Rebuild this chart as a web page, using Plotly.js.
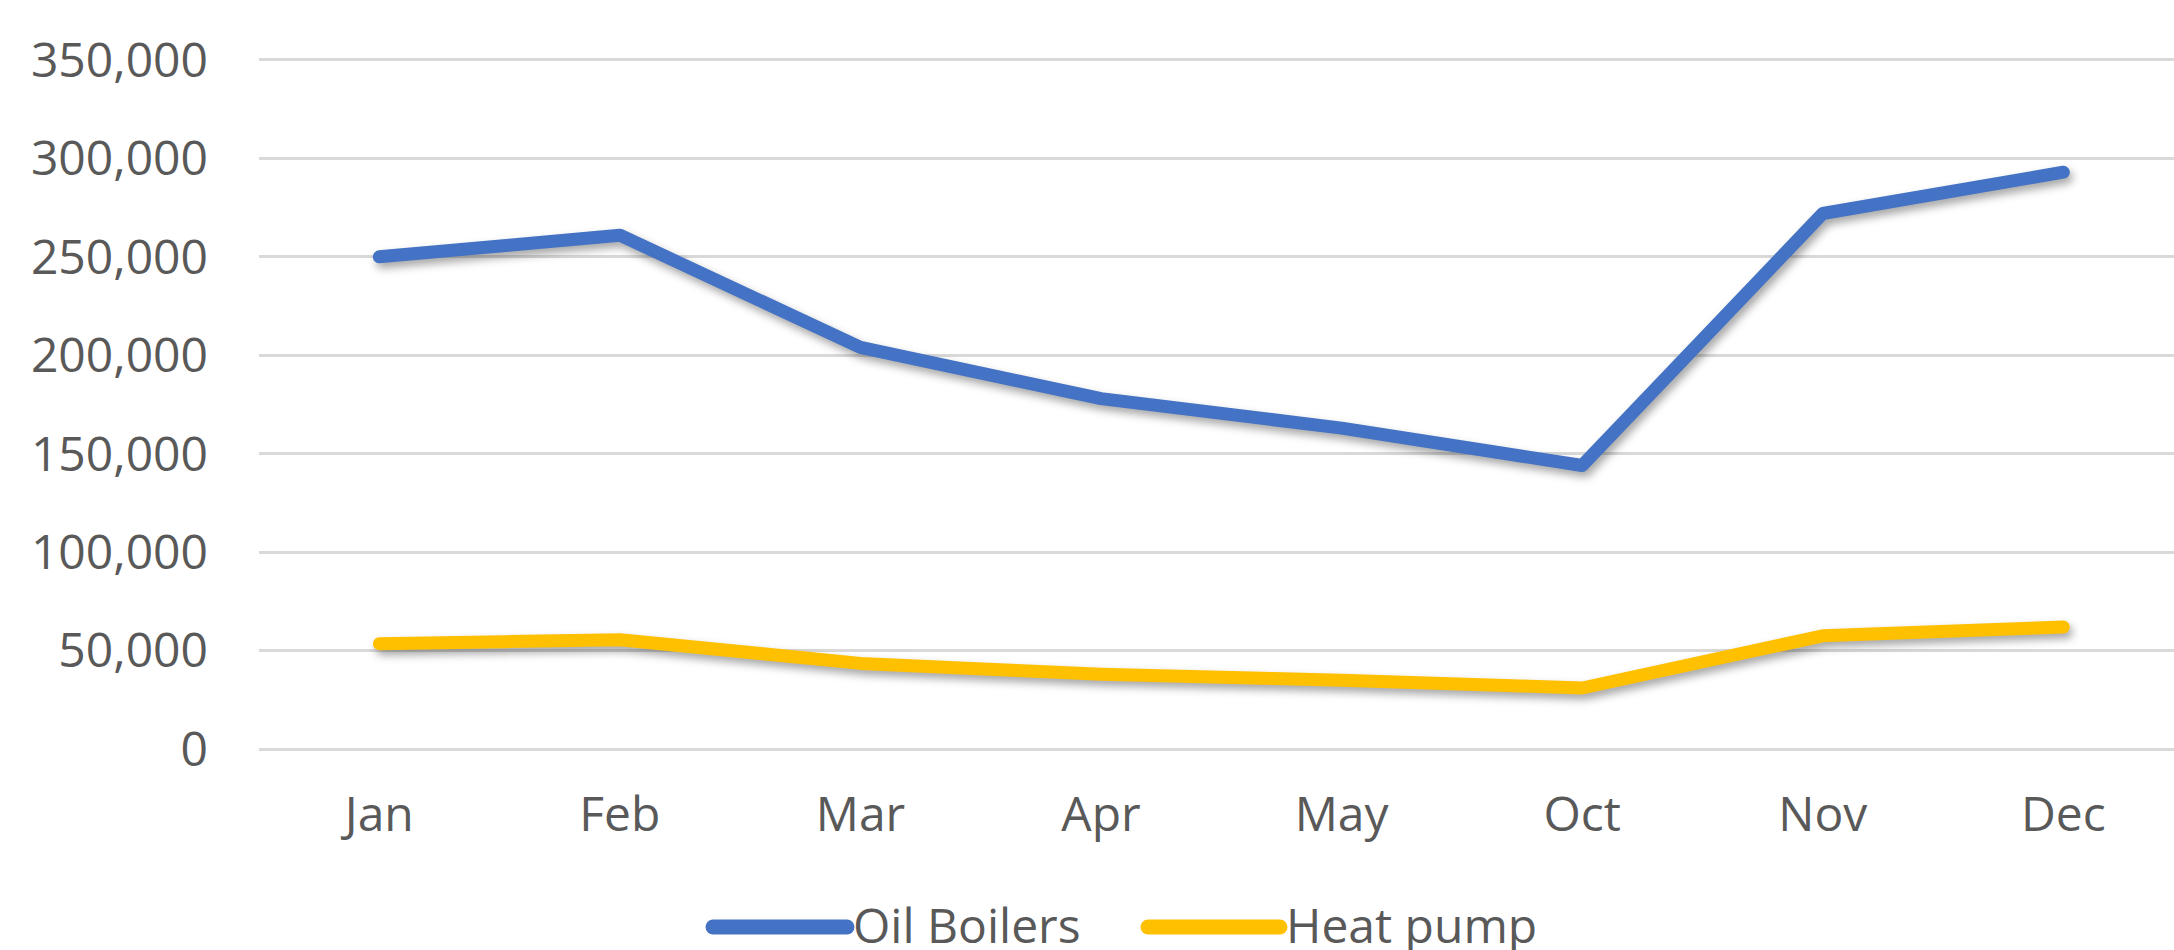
<!DOCTYPE html>
<html>
<head>
<meta charset="utf-8">
<script src="https://cdn.plot.ly/plotly-3.0.1.min.js"></script>
<style>
  html, body { margin: 0; padding: 0; background: #ffffff; }
  #chart { width: 2174px; height: 950px; }
  .scatterlayer .js-line {
    stroke-linecap: round !important;
    stroke-linejoin: round !important;
    filter: drop-shadow(3px 5px 4px rgba(0,0,0,0.35));
  }
  .shapelayer path { stroke-linecap: round !important; }
</style>
</head>
<body>
<div id="chart"></div>
<script>
// ---- data ----
const months = ["Jan", "Feb", "Mar", "Apr", "May", "Oct", "Nov", "Dec"];
const seriesNames = ["Oil Boilers", "Heat pump"];
const oilBoilers = [250000, 261000, 204000, 178000, 163000, 144000, 272000, 293000];
const heatPump = [53500, 55500, 43500, 38000, 35000, 31000, 57500, 62000];
const yTickVals = [0, 50000, 100000, 150000, 200000, 250000, 300000, 350000];

// ---- styling ----
const W = 2174, H = 950;
const margin = { l: 259, r: 0, t: 58, b: 199 };
const plotW = W - margin.l - margin.r;
const plotH = H - margin.t - margin.b;
const colors = ["#4472C4", "#FFC000"];
const textColor = "#595959";
const fontFamily = "'Open Sans', sans-serif";
const px2x = p => (p - margin.l) / plotW;
const px2y = p => (H - margin.b - p) / plotH;

const traces = [
  { x: months, y: oilBoilers, name: seriesNames[0], type: "scatter", mode: "lines",
    line: { color: colors[0], width: 13 }, hoverinfo: "x+y+name" },
  { x: months, y: heatPump, name: seriesNames[1], type: "scatter", mode: "lines",
    line: { color: colors[1], width: 13 }, hoverinfo: "x+y+name" }
];

// custom legend (long line samples like the original)
const legendY = 927;
const legendItems = [
  { x0: 713, x1: 847, tx: 851 },
  { x0: 1148, x1: 1280, tx: 1284 }
];
const shapes = legendItems.map((it, i) => ({
  type: "line", xref: "paper", yref: "paper",
  x0: px2x(it.x0), x1: px2x(it.x1), y0: px2y(legendY), y1: px2y(legendY),
  line: { color: colors[i], width: 15 }
}));
const annotations = legendItems.map((it, i) => ({
  xref: "paper", yref: "paper", x: px2x(it.tx), y: px2y(legendY - 3),
  xanchor: "left", yanchor: "middle", showarrow: false,
  text: seriesNames[i], font: { family: fontFamily, size: 48, color: textColor }
}));

const layout = {
  width: W, height: H,
  margin: margin,
  paper_bgcolor: "#ffffff", plot_bgcolor: "#ffffff",
  showlegend: false,
  font: { family: fontFamily, size: 48, color: textColor },
  xaxis: {
    type: "category",
    range: [-0.5, 7.46],
    showgrid: false, zeroline: false, showline: false,
    ticks: "", ticklabelstandoff: 31,
    tickfont: { family: fontFamily, size: 48, color: textColor },
    fixedrange: true
  },
  yaxis: {
    range: [-1000, 351000],
    tickvals: yTickVals,
    tickformat: ",d",
    showgrid: true, gridcolor: "#D9D9D9", gridwidth: 3,
    zeroline: false, showline: false,
    ticks: "", ticklabelstandoff: 50,
    tickfont: { family: fontFamily, size: 48, color: textColor },
    fixedrange: true
  },
  shapes: shapes,
  annotations: annotations
};

Plotly.newPlot("chart", traces, layout, { displayModeBar: false, staticPlot: true });
</script>
</body>
</html>
